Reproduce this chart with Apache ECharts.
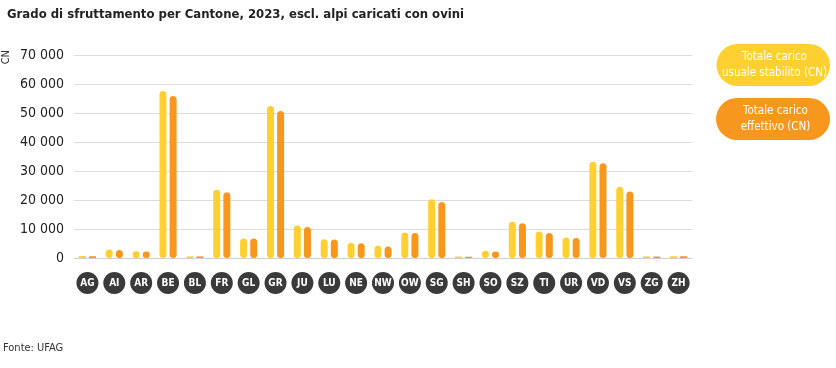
<!DOCTYPE html>
<html>
<head>
<meta charset="utf-8">
<script src="https://cdn.jsdelivr.net/npm/echarts@6/dist/echarts.min.js"></script>
<style>
html,body{margin:0;padding:0;background:#fff;}
#chart{width:836px;height:368px;}
</style>
</head>
<body>
<div id="chart"></div>
<script>
const cantons = ['AG','AI','AR','BE','BL','FR','GL','GR','JU','LU','NE','NW','OW','SG','SH','SO','SZ','TI','UR','VD','VS','ZG','ZH'];
const usuale = [650, 2900, 2300, 57600, 550, 23500, 6700, 52400, 11200, 6500, 5300, 4200, 8800, 20300, 500, 2500, 12500, 9100, 7100, 33200, 24600, 550, 600];
const effettivo = [600, 2800, 2200, 55900, 550, 22700, 6700, 50700, 10700, 6400, 5100, 4000, 8600, 19300, 450, 2200, 12000, 8600, 6900, 32700, 22900, 500, 600];
const yTicks = [0, 10000, 20000, 30000, 40000, 50000, 60000, 70000];
const seriesNames = ['Totale carico usuale stabilito (CN)', 'Totale carico effettivo (CN)'];
const legendLines = [['Totale carico', 'usuale stabilito (CN)'], ['Totale carico', 'effettivo (CN)']];

const FONT = "'DejaVu Sans Condensed', 'Open Sans', sans-serif";
const YELLOW = '#FFD02F';
const ORANGE = '#F7971D';

const chart = echarts.init(document.getElementById('chart'), null, {renderer: 'canvas'});

function fmt(v) {
  return String(v).replace(/\B(?=(\d{3})+(?!\d))/g, ' ');
}

function barData(arr) {
  return arr.map(v => ({ value: v, itemStyle: { borderRadius: v < 1000 ? 0 : 4 } }));
}

function legendFor(idx, color, top, w) {
  return {
    data: [seriesNames[idx]],
    right: 6, top: top,
    backgroundColor: color,
    borderRadius: 23,
    padding: [7, 3, 7, 3],
    icon: 'none',
    itemWidth: 0,
    itemHeight: 0,
    itemGap: 0,
    formatter: () => legendLines[idx].map(l => '{a|' + l + '}').join('\n'),
    textStyle: {
      color: '#fff',
      fontFamily: FONT,
      fontSize: 11.5,
      rich: { a: { color: '#fff', fontFamily: FONT, fontSize: 11.5, lineHeight: 16, width: w, align: 'center' } }
    }
  };
}

chart.setOption({
  animation: false,
  textStyle: { fontFamily: FONT },
  title: {
    text: 'Grado di sfruttamento per Cantone, 2023, escl. alpi caricati con ovini',
    left: 2, top: 3,
    textStyle: { fontFamily: FONT, fontSize: 13, fontWeight: 'bold', color: '#222' }
  },
  legend: [
    legendFor(0, YELLOW, 44, 100),
    legendFor(1, ORANGE, 98, 103)
  ],
  grid: { left: 74, right: 144, top: 55, bottom: 110 },
  xAxis: {
    type: 'category',
    data: cantons,
    axisLine: { show: true, lineStyle: { color: '#cfcfcf', width: 1 } },
    axisTick: { show: false },
    axisLabel: {
      interval: 0,
      margin: 14,
      color: '#fff',
      fontFamily: FONT,
      fontSize: 10,
      fontWeight: 'bold',
      backgroundColor: '#3a3a3a',
      width: 22, height: 22, lineHeight: 22,
      borderRadius: 11,
      align: 'center'
    }
  },
  yAxis: {
    type: 'value',
    min: 0, max: 70000, interval: 10000,
    axisLine: { show: false },
    axisTick: { show: false },
    splitLine: { lineStyle: { color: '#dcdcdc', width: 1 } },
    axisLabel: {
      margin: 10,
      color: '#222',
      fontFamily: FONT,
      fontSize: 14,
      formatter: v => yTicks.includes(v) ? fmt(v) : ''
    }
  },
  graphic: [
    { type: 'text', left: 1, top: 50, rotation: Math.PI / 2,
      style: { text: 'CN', fill: '#333', font: '11px ' + FONT } },
    { type: 'text', left: 3, top: 343,
      style: { text: 'Fonte: UFAG', fill: '#333', font: '11px ' + FONT } }
  ],
  series: [
    { name: seriesNames[0], type: 'bar', data: barData(usuale), barWidth: 7, barGap: '45%',
      itemStyle: { color: YELLOW } },
    { name: seriesNames[1], type: 'bar', data: barData(effettivo), barWidth: 7,
      itemStyle: { color: ORANGE } }
  ]
});
</script>
</body>
</html>
